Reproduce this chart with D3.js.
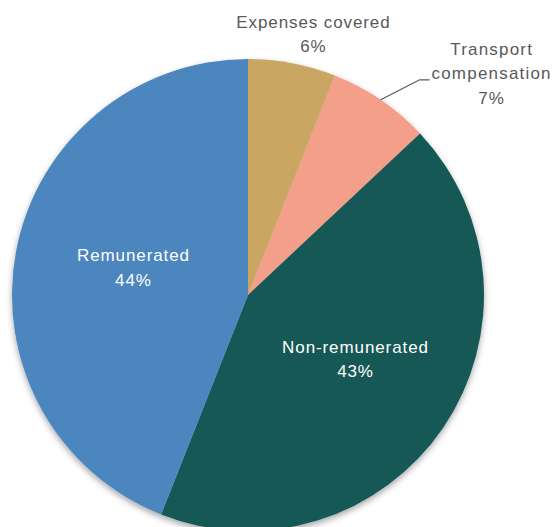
<!DOCTYPE html>
<html>
<head>
<meta charset="utf-8">
<script src="https://cdn.jsdelivr.net/npm/d3@7"></script>
<style>
  html, body { margin: 0; padding: 0; background: #fff; }
  svg { display: block; font-family: "Liberation Sans", Arial, sans-serif; }
</style>
</head>
<body>
<svg id="chart" width="555" height="527"></svg>
<script>
// Share of volunteers by type of compensation
const categories = ["Expenses covered", "Transport compensation", "Non-remunerated", "Remunerated"];
const shares = [6, 7, 43, 44];
const colors = ["#C9A764", "#F49F8A", "#165956", "#4B86BF"];

const svg = d3.select("#chart");
const cx = 248, cy = 295, r = 236;

const defs = svg.append("defs");
const shadow = defs.append("filter").attr("id", "pieShadow")
  .attr("x", "-10%").attr("y", "-10%").attr("width", "120%").attr("height", "125%");
shadow.append("feDropShadow")
  .attr("dx", 0).attr("dy", 3).attr("stdDeviation", 3)
  .attr("flood-color", "#000").attr("flood-opacity", 0.35);

const data = categories.map((c, i) => ({ name: c, value: shares[i], color: colors[i] }));

const pie = d3.pie().value(d => d.value).sort(null);
const arcs = pie(data);
const arc = d3.arc().innerRadius(0).outerRadius(r);
const labelArc = d3.arc().innerRadius(r * 0.52).outerRadius(r * 0.52);

const g = svg.append("g").attr("transform", `translate(${cx},${cy})`);

g.append("g").attr("filter", "url(#pieShadow)")
  .selectAll("path").data(arcs).join("path")
  .attr("d", arc)
  .attr("fill", d => d.data.color);

const fontSize = 17;
const lineH = 24.5;

function addLabel(lines, x, y, fill, spacing) {
  const t = g.append("text")
    .attr("text-anchor", "middle")
    .attr("fill", fill)
    .style("font-size", fontSize + "px")
    .style("letter-spacing", spacing + "px");
  lines.forEach((ln, i) => {
    t.append("tspan").attr("x", x).attr("y", y + i * lineH).text(ln);
  });
}

// inside labels for the two large slices
arcs.forEach(d => {
  if (d.data.value < 20) return;
  const [x, y] = labelArc.centroid(d);
  addLabel([d.data.name, d.data.value + "%"], x + 6, y - 11, "#ffffff", 0.9);
});

// outside labels for the two small slices
const a0 = arcs[0];
const mid0 = (a0.startAngle + a0.endAngle) / 2;
addLabel([a0.data.name, a0.data.value + "%"],
  Math.sin(mid0) * r * 1.05 + 19, -Math.cos(mid0) * r * 1.05 - 24, "#595959", 0.9);

const a1 = arcs[1];
const mid1 = (a1.startAngle + a1.endAngle) / 2;
const edge = [Math.sin(mid1) * r, -Math.cos(mid1) * r];
const elbow = [edge[0] + 39, edge[1] - 20];
const end = [elbow[0] + 10, elbow[1]];
g.append("polyline")
  .attr("points", [edge, elbow, end].map(p => p.join(",")).join(" "))
  .attr("fill", "none").attr("stroke", "#595959").attr("stroke-width", 1.2);
addLabel(["Transport", "compensation", a1.data.value + "%"],
  end[0] + 62, end[1] - 25, "#595959", 1.2);
</script>
</body>
</html>
